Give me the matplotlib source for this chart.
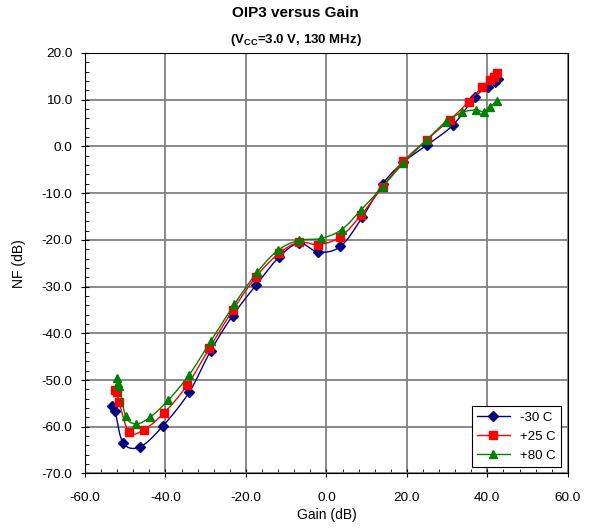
import numpy as np
import matplotlib
matplotlib.use("Agg")
import matplotlib.pyplot as plt
from matplotlib.ticker import MultipleLocator, FormatStrFormatter

plt.rcParams['font.family'] = ['Liberation Sans', 'DejaVu Sans']
plt.rcParams['mathtext.fontset'] = 'custom'
plt.rcParams['mathtext.rm'] = 'Liberation Sans:bold'
plt.rcParams['mathtext.bf'] = 'Liberation Sans:bold'

# -30 C
gain_m30 = [-53.2, -52.5, -50.5, -46.3, -40.7, -34.1, -28.8, -23.3, -17.5, -11.8, -6.8,
            -2.0, 3.5, 8.9, 14.0, 19.1, 25.0, 31.5, 36.9, 40.2, 41.9, 42.7]
nf_m30 = [-55.5, -56.7, -63.5, -64.3, -59.9, -52.6, -43.8, -36.2, -29.7, -23.7, -20.7,
          -22.6, -21.4, -15.2, -8.0, -3.4, 0.3, 4.6, 10.6, 12.8, 13.7, 14.5]
# +25 C
gain_25 = [-52.5, -52.1, -51.5, -49.0, -45.3, -40.3, -34.6, -29.1, -23.3, -17.5, -11.8, -6.8,
           -2.0, 3.4, 8.7, 14.0, 19.1, 24.9, 30.7, 35.4, 38.7, 40.6, 41.7, 42.4]
nf_25 = [-52.1, -52.6, -54.8, -61.2, -60.6, -57.0, -51.1, -43.2, -35.1, -27.9, -22.9, -20.5,
         -21.0, -19.4, -14.6, -8.6, -3.2, 1.4, 5.7, 9.6, 12.8, 14.2, 14.9, 15.7]
# +80 C
gain_80 = [-52.1, -51.7, -51.5, -49.9, -47.4, -43.9, -39.3, -34.1, -28.7, -22.9, -17.2, -12.0,
           -6.8, -1.4, 3.8, 8.7, 14.0, 19.1, 24.9, 29.7, 33.8, 37.1, 39.1, 40.6, 42.3]
nf_80 = [-49.6, -50.6, -51.2, -57.6, -59.4, -58.0, -54.3, -48.9, -41.6, -33.8, -26.9, -22.2,
         -20.1, -19.7, -17.8, -13.5, -8.6, -3.6, 1.4, 5.3, 7.3, 7.8, 7.4, 8.4, 9.8]


def smooth(x, y, n=20):
    # excel-like smoothed line (bezier through the points)
    p = np.column_stack([x, y]).astype(float)
    p = np.vstack([p[0], p, p[-1]])
    out = []
    t = np.linspace(0, 1, n)[:, None]
    for i in range(1, len(p) - 2):
        a, b = p[i], p[i + 1]
        c1 = a + (p[i + 1] - p[i - 1]) / 6
        c2 = b - (p[i + 2] - p[i]) / 6
        seg = (1 - t) ** 3 * a + 3 * (1 - t) ** 2 * t * c1 + 3 * (1 - t) * t ** 2 * c2 + t ** 3 * b
        out.append(seg)
    out = np.vstack(out)
    return out[:, 0], out[:, 1]


fig = plt.figure(figsize=(5.91, 5.32), dpi=100)
ax = fig.add_axes([0.1438, 0.11, 0.817, 0.7904])

series = [
    (gain_m30, nf_m30, '#000080', 'D', 5, '-30 C'),
    (gain_25, nf_25, '#FF0000', 's', 6, '+25 C'),
    (gain_80, nf_80, '#008000', '^', 6, '+80 C'),
]
for gx, ny, col, mk, ms, lab in series:
    sx, sy = smooth(gx, ny)
    ax.plot(sx, sy, color=col, lw=1.0)
    ax.plot(gx, ny, ls='none', marker=mk, color=col, ms=ms)
    ax.plot([], [], color=col, lw=1.0, marker=mk, ms=ms, label=lab)

ax.set_xlim(-60, 60)
ax.set_ylim(-70, 20)
ax.xaxis.set_major_locator(MultipleLocator(20))
ax.xaxis.set_minor_locator(MultipleLocator(4))
ax.yaxis.set_major_locator(MultipleLocator(10))
ax.yaxis.set_minor_locator(MultipleLocator(2))
ax.xaxis.set_major_formatter(FormatStrFormatter('%.1f'))
ax.yaxis.set_major_formatter(FormatStrFormatter('%.1f'))
ax.tick_params(which='both', labelsize=9.7, color='black')
ax.tick_params(which='major', direction='inout', length=6)
ax.tick_params(which='minor', direction='in', length=3)
ax.tick_params(axis='x', pad=10)
ax.tick_params(axis='y', pad=6)
ax.grid(True, which='major', color='#808080', lw=1.3)
for s in ax.spines.values():
    s.set_color('black')

ax.set_xlabel('Gain (dB)', fontsize=10, labelpad=3)
ax.set_ylabel('NF (dB)', fontsize=10, labelpad=11)

fig.text(0.5, 0.975, 'OIP3 versus Gain', ha='center', va='center', fontsize=11, fontweight='bold')
fig.text(0.5, 0.924, r'(V$_{\mathrm{CC}}$=3.0 V, 130 MHz)', ha='center', va='center',
         fontsize=9.5, fontweight='bold')

leg = ax.legend(loc='lower right', fontsize=9.5, frameon=True, fancybox=False,
                edgecolor='black', framealpha=1, handlelength=2.5, borderaxespad=0.5)
leg.get_frame().set_linewidth(0.8)

fig.savefig('out.png', dpi=100)
